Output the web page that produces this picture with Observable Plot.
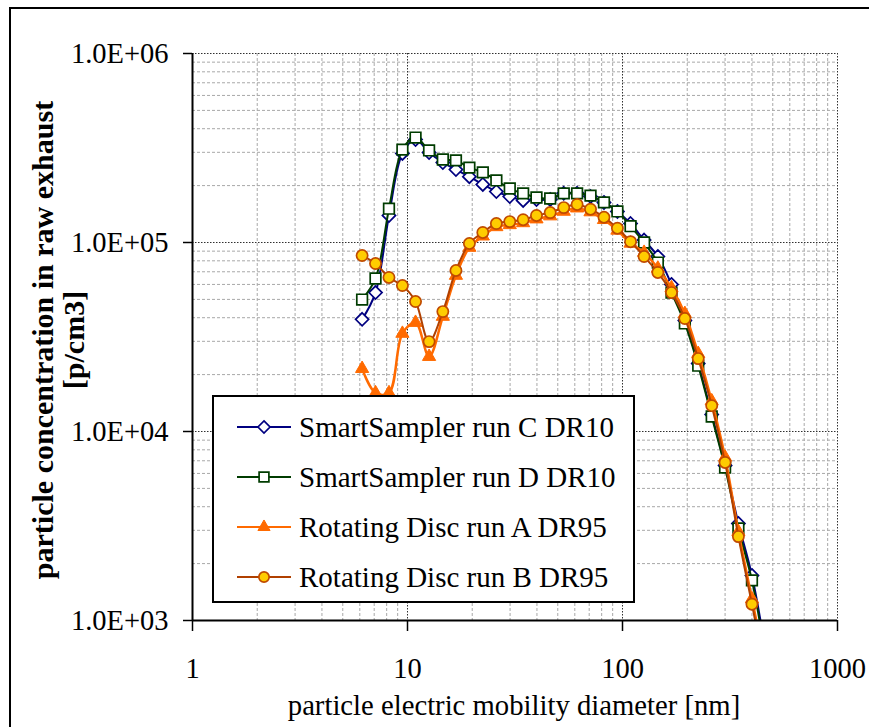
<!DOCTYPE html>
<html><head><meta charset="utf-8">
<script src="https://cdn.jsdelivr.net/npm/d3@7"></script>
<script src="https://cdn.jsdelivr.net/npm/@observablehq/plot@0.6"></script>
<style>
html,body{margin:0;padding:0;background:#fff;overflow:hidden;}
#wrap{position:relative;width:869px;height:727px;overflow:hidden;}
</style></head><body><div id="wrap"></div>
<script>
// particle electric mobility diameter [nm] (SMPS channels)
const diameters = [6.15,7.1,8.2,9.47,10.9,12.6,14.6,16.8,19.4,22.4,25.9,29.9,34.5,39.8,46.1,53.3,61.5,71.0,82.0,94.7,109,126,146,169,195,225,260,300,346,400,462];
const runC = [39200,54300,139000,296000,351000,299000,265000,243000,223000,203000,186000,175000,167000,169000,169000,182000,182000,175000,163000,146000,126000,103000,84300,60000,38700,22900,12300,6600,3260,1730,700];
const runD = [49900,64500,151000,310000,359000,307000,275000,272000,249000,235000,213000,193000,182000,173000,171000,182000,182000,177000,163000,146000,122000,100000,78300,54300,37300,22300,12000,6450,3070,1630,650];
const runA = [21500,16000,16000,33000,37700,24900,40600,66900,94100,108000,121000,124000,127000,133000,138000,146000,152000,145000,132000,116000,99000,88500,73000,57500,42000,25800,14500,7300,2950,1300,580];
const runB = [85300,77400,65300,59200,48700,29900,43100,71100,98800,113000,126000,129000,132000,139000,144000,153000,159000,150000,136000,119000,101000,84300,69400,54300,39600,24300,13700,6860,2780,1220,530];

const seriesNames = ["SmartSampler run C DR10","SmartSampler run D DR10","Rotating Disc run A DR95","Rotating Disc run B DR95"];

const xTicks = [1,10,100,1000];
const xTickLabels = ["1","10","100","1000"];
const yTicks = [1e3,1e4,1e5,1e6];
const yTickLabels = ["1.0E+03","1.0E+04","1.0E+05","1.0E+06"];
const xMinor = [2,3,4,5,6,7,8,9,20,30,40,50,60,70,80,90,200,300,400,500,600,700,800,900];
const yMinor = [2e3,3e3,4e3,5e3,6e3,7e3,8e3,9e3,2e4,3e4,4e4,5e4,6e4,7e4,8e4,9e4,2e5,3e5,4e5,5e5,6e5,7e5,8e5,9e5];
const xTitle = "particle electric mobility diameter [nm]";
const yTitle = ["particle concentration in raw exhaust","[p/cm3]"];

const rows = (vals) => diameters.map((d,i)=>({d, v: vals[i]}));
const dataC = rows(runC), dataD = rows(runD), dataA = rows(runA), dataB = rows(runB);

const FONT = "'Liberation Serif','Times New Roman',serif";
const styles = [
  {name: seriesNames[0], line:"#000080", stroke:"#000080", fill:"white", symbol:"diamond2", r:5.9, lw:2, sw:1.7},
  {name: seriesNames[1], line:"#003c00", stroke:"#003c00", fill:"white", symbol:"square", r:6.0, lw:2, sw:1.7},
  {name: seriesNames[2], line:"#ff6a00", stroke:"#ff6a00", fill:"#ff6a00", symbol:"triangle", r:4.9, lw:2.5, sw:1},
  {name: seriesNames[3], line:"#b04000", stroke:"#c04a00", fill:"#ffcc00", symbol:"circle", r:5.6, lw:2, sw:1.7}
];
const datasets = [dataC, dataD, dataA, dataB];

const seriesMarks = [];
datasets.forEach((data, i) => {
  const s = styles[i];
  seriesMarks.push(Plot.line(data, {x:"d", y:"v", stroke:s.line, strokeWidth:s.lw, curve:"catmull-rom", clip:true}));
  seriesMarks.push(Plot.dot(data, {x:"d", y:"v", symbol:s.symbol, r:s.r, stroke:s.stroke, fill:s.fill, strokeWidth:s.sw, clip:true}));
});

const chart = Plot.plot({
  width: 869,
  height: 727,
  marginLeft: 192,
  marginRight: 32,
  marginTop: 53,
  marginBottom: 107,
  style: {fontFamily: FONT, fontSize: "28px", color: "black", background: "white"},
  x: {type: "log", domain: [1, 1000]},
  y: {type: "log", domain: [1e3, 1e6]},
  marks: [
    Plot.ruleX(xMinor, {stroke:"#a8a8a8", strokeWidth:1, strokeDasharray:"3,2"}),
    Plot.ruleY(yMinor, {stroke:"#a8a8a8", strokeWidth:1, strokeDasharray:"3,2"}),
    Plot.ruleX([10,100,1000], {stroke:"#303030", strokeWidth:1, strokeDasharray:"1.5,1.5"}),
    Plot.ruleY([1e4,1e5,1e6], {stroke:"#303030", strokeWidth:1, strokeDasharray:"1.5,1.5"}),
    Plot.axisX(xTicks, {tickFormat: d => xTickLabels[xTicks.indexOf(d)], tickSize: 11, tickPadding: 26, fontSize: 28.5, strokeWidth: 1.5, label: null}),
    Plot.axisY(yTicks, {tickFormat: d => yTickLabels[yTicks.indexOf(d)], tickSize: 9, tickPadding: 15, fontSize: 28.5, strokeWidth: 1.5, label: null}),
    ...seriesMarks,
    Plot.ruleX([1], {stroke:"black", strokeWidth:2}),
    Plot.ruleY([1e3], {stroke:"black", strokeWidth:2})
  ]
});
document.getElementById("wrap").appendChild(chart);

const svg = d3.select(chart);
// outer chart-area frame
svg.append("rect").attr("x",10).attr("y",8).attr("width",1000).attr("height",1000)
  .attr("fill","none").attr("stroke","black").attr("stroke-width",2);

// axis titles
svg.append("text").attr("x",514).attr("y",705).attr("dy","0.35em")
  .attr("text-anchor","middle").attr("font-family",FONT).attr("font-size",28.7).attr("fill","black").text(xTitle);
[42,73].forEach((cx, i) => {
  svg.append("text").attr("transform",`translate(${cx},340) rotate(-90)`).attr("dy","0.35em")
    .attr("text-anchor","middle").attr("font-family",FONT).attr("font-size",30).attr("font-weight","bold")
    .attr("fill","black").text(yTitle[i]);
});

// legend
const lg = svg.append("g");
lg.append("rect").attr("x",213).attr("y",396).attr("width",421).attr("height",206)
  .attr("fill","white").attr("stroke","black").attr("stroke-width",2);
const symMap = {diamond2: d3.symbolDiamond2, square: d3.symbolSquare, triangle: d3.symbolTriangle, circle: d3.symbolCircle};
styles.forEach((s, i) => {
  const y = 427 + i * 50;
  lg.append("line").attr("x1",237).attr("x2",291).attr("y1",y).attr("y2",y).attr("stroke",s.line).attr("stroke-width",2);
  lg.append("path").attr("transform",`translate(264,${y})`)
    .attr("d", d3.symbol(symMap[s.symbol], Math.PI * s.r * s.r * 0.85)())
    .attr("fill", s.fill).attr("stroke", s.stroke).attr("stroke-width", s.sw);
  lg.append("text").attr("x",299).attr("y",y).attr("dy","0.35em").attr("text-anchor","start").attr("font-family",FONT)
    .attr("font-size",29).attr("fill","black").text(s.name);
});
</script></body></html>
